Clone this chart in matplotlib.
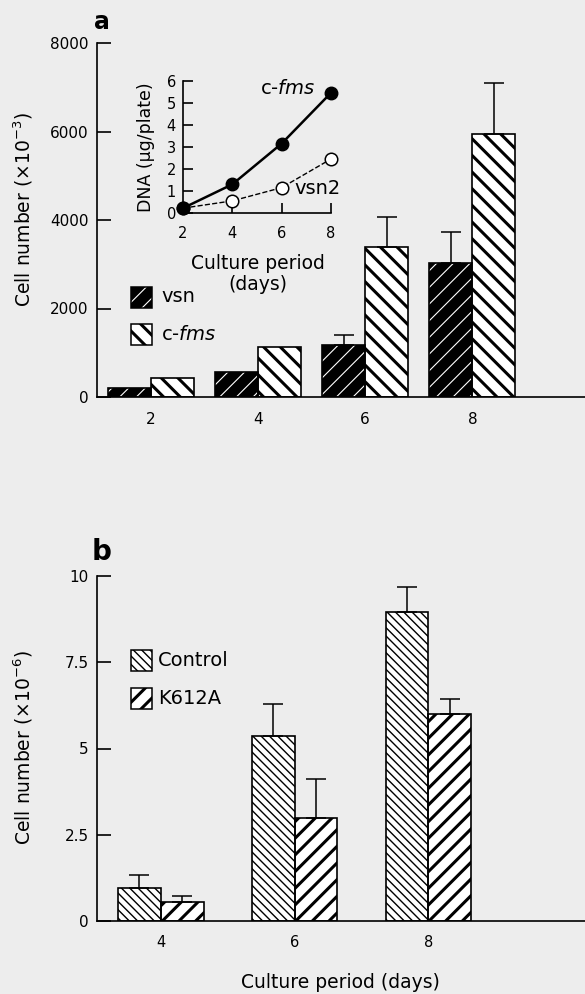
''' two-panel figure: cell growth of vsn / c-fms and Control / K612A '''
import matplotlib
matplotlib.use('Agg')
import matplotlib.pyplot as plt
from matplotlib.patches import Rectangle

W, H = 585, 994

# panel a: cell number (x10^-3)
days_a = [2, 4, 6, 8]
vsn_cells = [200, 570, 1170, 3020]
vsn_err = [0, 0, 230, 710]
cfms_cells = [430, 1140, 3400, 5940]
cfms_err = [0, 0, 660, 1160]
ticks_a = [0, 2000, 4000, 6000, 8000]

# inset: DNA (ug/plate)
dna_days = [2, 4, 6, 8]
dna_cfms = [0.22, 1.3, 3.15, 5.45]
dna_vsn2 = [0.22, 0.55, 1.15, 2.45]

# panel b: cell number (x10^-6)
days_b = [4, 6, 8]
control_cells = [0.97, 5.36, 8.96]
control_err = [0.35, 0.92, 0.71]
k612a_cells = [0.55, 2.99, 5.99]
k612a_err = [0.18, 1.13, 0.45]
ticks_b = [0, 2.5, 5, 7.5, 10]
tick_labels_b = ['0', '2.5', '5', '7.5', '10']


def box(left, top, right, bottom):
    ''' pixel box -> figure fraction rect '''
    return [left / W, 1 - bottom / H, (right - left) / W, (bottom - top) / H]


def set_hlw(patches, lw):
    for p in patches:
        if hasattr(p, 'set_hatch_linewidth'):
            p.set_hatch_linewidth(lw)


def hatched_bars(ax, x, h, width, face, hatch, hcolor, hlw):
    with plt.rc_context({'hatch.linewidth': hlw}):
        bars = ax.bar(x, h, width, color=face, edgecolor=hcolor,
                      hatch=hatch, linewidth=0, zorder=2)
    set_hlw(bars, hlw)
    ax.bar(x, h, width, fill=False, edgecolor='black', linewidth=1.2, zorder=3)


def up_errors(ax, x, h, err):
    keep = [i for i, e in enumerate(err) if e > 0]
    ax.errorbar([x[i] for i in keep], [h[i] for i in keep],
                yerr=[[0] * len(keep), [err[i] for i in keep]],
                fmt='none', ecolor='black', elinewidth=1.1,
                capsize=7, capthick=1.1, zorder=4)


def legend_box(lay, x, y, face, hatch, hcolor, hlw):
    with plt.rc_context({'hatch.linewidth': hlw}):
        r = Rectangle((x, y), 21, 21, facecolor=face, edgecolor=hcolor,
                      hatch=hatch, linewidth=0)
    set_hlw([r], hlw)
    lay.add_patch(r)
    lay.add_patch(Rectangle((x, y), 21, 21, fill=False,
                            edgecolor='black', linewidth=1.1))


def style_main(ax):
    for s in ['top', 'right']:
        ax.spines[s].set_visible(False)
    for s in ['left', 'bottom']:
        ax.spines[s].set_linewidth(1.2)
    ax.set_facecolor('none')
    ax.tick_params(axis='y', direction='in', length=10, width=1.2,
                   labelsize=11, pad=6)
    ax.tick_params(axis='x', length=0, labelsize=11, pad=11)


def main():
    fig = plt.figure(figsize=(W / 100, H / 100), dpi=100, facecolor='#ededed')
    lay = fig.add_axes([0, 0, 1, 1])
    lay.set_xlim(0, W)
    lay.set_ylim(H, 0)
    lay.axis('off')

    # ---- panel a ----
    ax = fig.add_axes(box(97, 43, 585, 397))
    style_main(ax)
    xa = list(days_a)
    xv = [d - 0.4 for d in xa]
    xc = [d + 0.4 for d in xa]
    hatched_bars(ax, xv, vsn_cells, 0.8, 'black', '//', 'white', 0.8)
    hatched_bars(ax, xc, cfms_cells, 0.8, 'white', '\\\\', 'black', 2.2)
    up_errors(ax, xv, vsn_cells, vsn_err)
    up_errors(ax, xc, cfms_cells, cfms_err)
    ax.set_xlim(1.0, 10.1)
    ax.set_ylim(0, 8000)
    ax.set_yticks(ticks_a)
    ax.set_xticks(days_a)

    lay.text(23, 210, 'Cell number (×10$^{-3}$)', rotation=90,
             ha='center', va='center', fontsize=13.5)
    lay.text(102, 22, 'a', ha='center', va='center', fontsize=17,
             fontweight='bold')

    legend_box(lay, 131, 287, 'black', '//', 'white', 0.8)
    legend_box(lay, 131, 324, 'white', '\\\\', 'black', 2.2)
    lay.text(161, 297, 'vsn', ha='left', va='center', fontsize=14)
    lay.text(161, 334, 'c-$\\mathit{fms}$', ha='left', va='center',
             fontsize=14)

    # ---- inset ----
    ins = fig.add_axes(box(183, 80.7, 331, 213))
    ins.set_facecolor('none')
    for s in ['top', 'right']:
        ins.spines[s].set_visible(False)
    for s in ['left', 'bottom']:
        ins.spines[s].set_linewidth(1.2)
    ins.plot(dna_days, dna_vsn2, '--', color='black', lw=1.0,
             marker='o', ms=9, mfc='white', mec='black', mew=1.1,
             clip_on=False, zorder=3)
    ins.plot(dna_days, dna_cfms, '-', color='black', lw=1.8,
             marker='o', ms=9, mfc='black', mec='black',
             clip_on=False, zorder=4)
    ins.set_xlim(2, 8)
    ins.set_ylim(0, 6)
    ins.set_xticks(dna_days)
    ins.set_yticks(range(7))
    ins.tick_params(direction='in', length=7, width=1.2, labelsize=10.5)
    ins.tick_params(axis='x', pad=9)
    ins.tick_params(axis='y', pad=5)
    lay.text(146, 147, 'DNA (µg/plate)', rotation=90, ha='center',
             va='center', fontsize=12.5)
    lay.text(260, 88, 'c-$\\mathit{fms}$', ha='left', va='center',
             fontsize=14)
    lay.text(294, 189, 'vsn2', ha='left', va='center', fontsize=14)
    lay.text(258, 274, 'Culture period\n(days)', ha='center', va='center',
             fontsize=13.5, linespacing=1.15)

    # ---- panel b ----
    bx = fig.add_axes(box(97, 576, 585, 921))
    style_main(bx)
    xk = [d - 0.32 for d in days_b]
    xm = [d + 0.32 for d in days_b]
    hatched_bars(bx, xk, control_cells, 0.64, 'white', '\\\\\\\\', 'black', 1.0)
    hatched_bars(bx, xm, k612a_cells, 0.64, 'white', '//', 'black', 2.2)
    up_errors(bx, xk, control_cells, control_err)
    up_errors(bx, xm, k612a_cells, k612a_err)
    bx.set_xlim(3.045, 10.34)
    bx.set_ylim(0, 10)
    bx.set_yticks(ticks_b)
    bx.set_yticklabels(tick_labels_b)
    bx.set_xticks(days_b)
    bx.tick_params(axis='x', labelsize=10.5, pad=10)

    lay.text(23, 748, 'Cell number (×10$^{-6}$)', rotation=90,
             ha='center', va='center', fontsize=13.5)
    lay.text(102, 552, 'b', ha='center', va='center', fontsize=20,
             fontweight='bold')
    lay.text(340, 982, 'Culture period (days)', ha='center', va='center',
             fontsize=13.5)

    legend_box(lay, 131, 650, 'white', '\\\\\\\\', 'black', 1.0)
    legend_box(lay, 131, 688, 'white', '//', 'black', 2.2)
    lay.text(158, 660, 'Control', ha='left', va='center', fontsize=14)
    lay.text(158, 698, 'K612A', ha='left', va='center', fontsize=14)

    fig.savefig('out.png', dpi=100, facecolor=fig.get_facecolor())


if __name__ == '__main__':
    main()
